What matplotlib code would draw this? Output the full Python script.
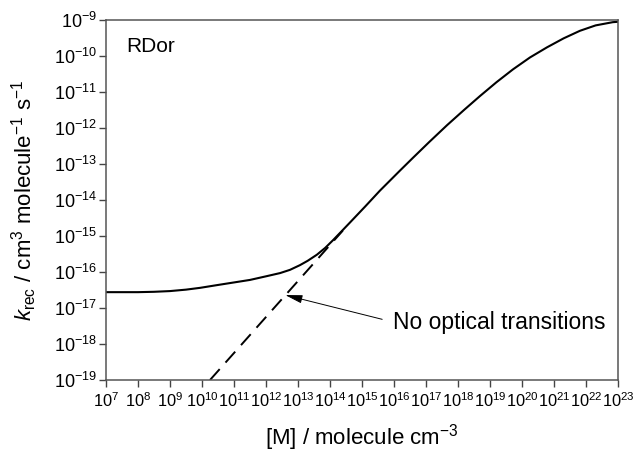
import numpy as np
import matplotlib
matplotlib.use("Agg")
import matplotlib.pyplot as plt
from matplotlib.ticker import LogLocator, LogFormatterSciNotation, NullLocator

plt.rcParams['font.family'] = ['Liberation Sans', 'DejaVu Sans']
plt.rcParams['mathtext.fontset'] = 'custom'
plt.rcParams['mathtext.rm'] = 'Liberation Sans'
plt.rcParams['mathtext.it'] = 'Liberation Sans:italic'
plt.rcParams['mathtext.bf'] = 'Liberation Sans:bold'
plt.rcParams['mathtext.sf'] = 'Liberation Sans'
plt.rcParams['axes.unicode_minus'] = False

# Full recombination rate coefficient (solid)
log_M = [7.0, 8.0, 8.5, 9.0, 9.5, 9.94, 10.5, 11.0, 11.5, 12.0, 12.44, 12.75,
         13.06, 13.3, 13.59, 13.85, 14.09, 14.35, 14.63, 15.1, 15.56, 16.19,
         16.59, 17.1, 17.66, 18.2, 18.69, 19.2, 19.72, 20.25, 20.78, 21.3,
         21.81, 22.3, 22.84, 23.0]
log_k = [-16.56, -16.56, -16.55, -16.53, -16.49, -16.44, -16.36, -16.29, -16.22,
         -16.12, -16.03, -15.94, -15.81, -15.69, -15.52, -15.33, -15.12, -14.88,
         -14.62, -14.18, -13.74, -13.18, -12.83, -12.39, -11.92, -11.49, -11.11,
         -10.73, -10.37, -10.04, -9.76, -9.51, -9.30, -9.15, -9.06, -9.05]

# "No optical transitions" (dashed)
log_M_dash = [10.25, 14.4]
log_k_dash = [-19.0, -14.85]

M = 10.0 ** np.array(log_M)
k = 10.0 ** np.array(log_k)
M_d = 10.0 ** np.array(log_M_dash)
k_d = 10.0 ** np.array(log_k_dash)

fig = plt.figure(figsize=(6.36, 4.53), dpi=100)
ax = fig.add_axes([106/636, 73/453, 512/636, 360/453])

ax.plot(M_d, k_d, color='black', lw=1.4, dashes=(7.5, 4.5))
ax.plot(M, k, color='black', lw=1.5, solid_joinstyle='round')

ax.set_xscale('log')
ax.set_yscale('log')
ax.set_xlim(1e7, 1e23)
ax.set_ylim(1e-19, 1e-9)

ax.xaxis.set_major_locator(LogLocator(base=10, numticks=30))
ax.yaxis.set_major_locator(LogLocator(base=10, numticks=30))
ax.xaxis.set_minor_locator(NullLocator())
ax.yaxis.set_minor_locator(NullLocator())
ax.xaxis.set_major_formatter(LogFormatterSciNotation())
ax.yaxis.set_major_formatter(LogFormatterSciNotation())

ax.tick_params(axis='both', which='major', direction='out', length=5, width=1,
               color='#444444', top=False, right=False)
ax.tick_params(axis='x', pad=3, labelsize=11.8)
ax.tick_params(axis='y', pad=1.5, labelsize=13)

for s in ax.spines.values():
    s.set_color('#555555')
    s.set_linewidth(1.1)

ax.set_xlabel('[M] / molecule cm$^{-3}$', fontsize=16)
ax.xaxis.set_label_coords(0.5, -0.117)
ax.set_ylabel('$k_{\\rm rec}$ / cm$^{3}$ molecule$^{-1}$ s$^{-1}$', fontsize=16)
ax.yaxis.set_label_coords(-0.13, 0.5)

ax.text(0.039, 0.925, 'RDor', transform=ax.transAxes, fontsize=15,
        ha='left', va='center')

ax.annotate('No optical transitions', xy=(10**12.6, 10**-16.64),
            xytext=(10**15.97, 10**-17.39), fontsize=16.5, ha='left', va='center',
            arrowprops=dict(arrowstyle='-|>,head_length=1.05,head_width=0.25',
                            mutation_scale=10, color='black', lw=0.7,
                            shrinkA=6, shrinkB=0, relpos=(0, 0.5)))

fig.savefig('out.png', dpi=100)
